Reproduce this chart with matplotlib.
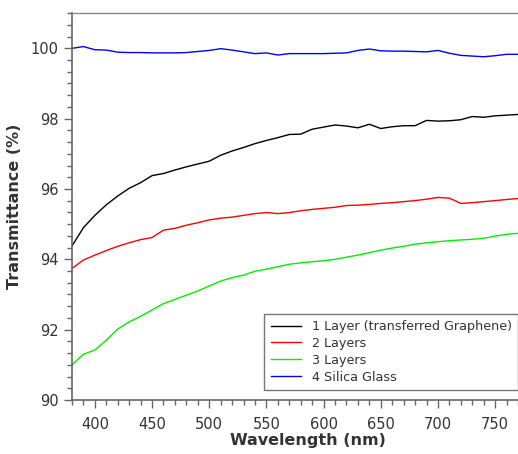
import matplotlib
matplotlib.use("Agg")
import matplotlib.pyplot as plt
from matplotlib.ticker import MultipleLocator, AutoMinorLocator

# wavelength grid (nm)
wavelength = [380, 390, 400, 410, 420, 430, 440, 450, 460, 470,
              480, 490, 500, 510, 520, 530, 540, 550, 560, 570,
              580, 590, 600, 610, 620, 630, 640, 650, 660, 670,
              680, 690, 700, 710, 720, 730, 740, 750, 760, 770]

layer1 = [94.38, 94.90, 95.25, 95.55, 95.80, 96.02, 96.18, 96.38, 96.44, 96.54,
          96.63, 96.71, 96.79, 96.96, 97.08, 97.18, 97.29, 97.38, 97.46, 97.55,
          97.56, 97.70, 97.76, 97.82, 97.79, 97.74, 97.84, 97.72, 97.77, 97.80,
          97.80, 97.95, 97.93, 97.94, 97.97, 98.06, 98.04, 98.08, 98.10, 98.12]

layer2 = [93.74, 93.98, 94.12, 94.25, 94.37, 94.47, 94.56, 94.62, 94.83, 94.88,
          94.97, 95.04, 95.12, 95.17, 95.20, 95.25, 95.30, 95.33, 95.30, 95.33,
          95.38, 95.42, 95.45, 95.48, 95.53, 95.54, 95.56, 95.59, 95.61, 95.64,
          95.67, 95.71, 95.76, 95.74, 95.59, 95.61, 95.64, 95.67, 95.70, 95.73]

layer3 = [91.00, 91.30, 91.42, 91.70, 92.02, 92.22, 92.38, 92.56, 92.74, 92.86,
          92.98, 93.10, 93.24, 93.38, 93.48, 93.55, 93.66, 93.72, 93.79, 93.86,
          93.90, 93.93, 93.96, 94.00, 94.06, 94.12, 94.19, 94.26, 94.32, 94.37,
          94.43, 94.47, 94.50, 94.53, 94.55, 94.57, 94.60, 94.66, 94.71, 94.74]

silica = [100.00, 100.05, 99.96, 99.95, 99.89, 99.88, 99.88, 99.87, 99.87, 99.87,
          99.88, 99.91, 99.94, 99.99, 99.95, 99.90, 99.85, 99.87, 99.81, 99.85,
          99.85, 99.85, 99.85, 99.86, 99.87, 99.94, 99.98, 99.93, 99.92, 99.92,
          99.91, 99.90, 99.94, 99.86, 99.80, 99.78, 99.76, 99.79, 99.83, 99.83]

labels = ["1 Layer (transferred Graphene)", "2 Layers", "3 Layers", "4 Silica Glass"]
colors = ["#000000", "#ff0000", "#00ee00", "#0000ff"]

text_color = "#333333"
axis_color = "#666666"

fig = plt.figure(figsize=(5.18, 4.54), dpi=100)
ax = fig.add_axes([0.139, 0.119, 0.861, 0.852])

for series, label, color in zip([layer1, layer2, layer3, silica], labels, colors):
    ax.plot(wavelength, series, color=color, lw=1.0, label=label)

ax.set_xlim(380, 770)
ax.set_ylim(90, 101)
ax.xaxis.set_major_locator(MultipleLocator(50))
ax.xaxis.set_minor_locator(MultipleLocator(10))
ax.yaxis.set_major_locator(MultipleLocator(2))
ax.yaxis.set_minor_locator(AutoMinorLocator(6))

ax.spines["right"].set_visible(False)
for side in ["left", "bottom"]:
    ax.spines[side].set_color(axis_color)
    ax.spines[side].set_linewidth(1.2)
ax.spines["top"].set_color("#888888")
ax.spines["top"].set_linewidth(1.0)

ax.tick_params(which="major", direction="out", length=6, width=1, color=axis_color,
               labelsize=10.5, labelcolor=text_color, top=False, right=False)
ax.tick_params(axis="x", which="major", pad=6)
ax.tick_params(which="minor", direction="out", length=3.5, width=1, color=axis_color,
               top=False, right=False)

ax.set_xlabel("Wavelength (nm)", fontsize=11.5, fontweight="bold", color=text_color)
ax.xaxis.set_label_coords(0.528, -0.085)
ax.set_ylabel("Transmittance (%)", fontsize=11.5, fontweight="bold", color=text_color, labelpad=6)

leg = ax.legend(loc="lower right", bbox_to_anchor=(1.0, 0.026), borderaxespad=0,
                fontsize=9.2, fancybox=False, frameon=True, handlelength=2.4,
                labelspacing=0.3, borderpad=0.5)
leg.get_frame().set_edgecolor("#555555")
leg.get_frame().set_linewidth(1.0)
for t in leg.get_texts():
    t.set_color(text_color)

plt.savefig("out.png", dpi=100)
plt.close()
